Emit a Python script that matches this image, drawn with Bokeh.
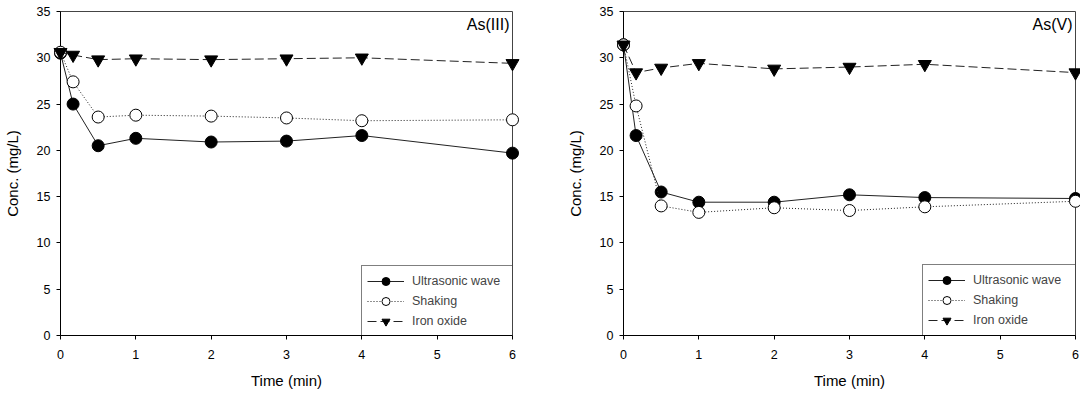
from bokeh.plotting import figure
from bokeh.layouts import row
from bokeh.models import Range1d, Legend, LegendItem, Label, FixedTicker
from bokeh.embed import file_html
from bokeh.resources import INLINE

time_min = [0, 0.167, 0.5, 1, 2, 3, 4, 6]

as3_ultrasonic = [30.5, 25.0, 20.5, 21.3, 20.9, 21.0, 21.6, 19.7]
as3_shaking = [30.6, 27.4, 23.6, 23.8, 23.7, 23.5, 23.2, 23.3]
as3_iron = [30.6, 30.3, 29.8, 29.9, 29.8, 29.9, 30.0, 29.4]

as5_ultrasonic = [31.4, 21.6, 15.5, 14.4, 14.4, 15.2, 14.9, 14.8]
as5_shaking = [31.4, 24.8, 14.0, 13.3, 13.8, 13.5, 13.9, 14.5]
as5_iron = [31.4, 28.4, 28.9, 29.4, 28.8, 29.0, 29.3, 28.4]

series_labels = ["Ultrasonic wave", "Shaking", "Iron oxide"]
x_ticks = [0, 1, 2, 3, 4, 5, 6]
y_ticks = [0, 5, 10, 15, 20, 25, 30, 35]

FONT = "Liberation Sans"
LINE_COL = "#222222"


def make_panel(width, border_left, border_right, title, ys, legend_loc, label_width):
    p = figure(width=width, height=392, output_backend="svg", toolbar_location=None,
               x_range=Range1d(0, 6), y_range=Range1d(0, 35),
               min_border_left=border_left, min_border_right=border_right,
               min_border_top=11, min_border_bottom=57)
    p.grid.visible = False
    p.outline_line_color = "#444444"
    p.outline_line_width = 1
    p.background_fill_color = "white"
    for ax in (p.xaxis[0], p.yaxis[0]):
        ax.axis_line_color = "black"
        ax.major_tick_line_color = "black"
        ax.minor_tick_line_color = None
        ax.major_tick_in = 0
        ax.major_tick_out = 4
        ax.major_label_text_font = FONT
        ax.major_label_text_font_size = "12.5px"
        ax.major_label_text_color = "black"
        ax.axis_label_text_font = FONT
        ax.axis_label_text_font_size = "15px"
        ax.axis_label_text_font_style = "normal"
        ax.axis_label_text_color = "black"
    p.xaxis.ticker = FixedTicker(ticks=x_ticks)
    p.yaxis.ticker = FixedTicker(ticks=y_ticks)
    p.xaxis.axis_label = "Time (min)"
    p.yaxis.axis_label = "Conc. (mg/L)"
    p.xaxis.major_label_standoff = 10
    p.xaxis.axis_label_standoff = 10
    p.yaxis.major_label_standoff = 6
    p.yaxis.axis_label_standoff = 13

    styles = [
        dict(dash="solid", marker="circle", fill="black", size=12),
        dict(dash="1 2", marker="circle", fill="white", size=12),
        dict(dash="9 4", marker="inverted_triangle", fill="black", size=13),
    ]
    items = []
    for lab, y, st in zip(series_labels, ys, styles):
        lr = p.line(time_min, y, line_color=LINE_COL, line_width=1, line_dash=st["dash"], level="overlay")
        sr = p.scatter(time_min, y, marker=st["marker"], size=st["size"], fill_color=st["fill"],
                       line_color="black", line_width=1, level="overlay")
        items.append(LegendItem(label=lab, renderers=[lr, sr]))

    leg = Legend(items=items, location=legend_loc)
    leg.label_text_font = FONT
    leg.label_text_font_size = "12.5px"
    leg.glyph_width = 37
    leg.glyph_height = 20
    leg.label_height = 14
    leg.label_width = label_width
    leg.spacing = 0
    leg.padding = 5
    leg.margin = 0
    leg.label_standoff = 8
    leg.border_line_color = "black"
    leg.border_line_width = 1
    leg.background_fill_color = "white"
    leg.background_fill_alpha = 1
    p.add_layout(leg, "center")

    p.add_layout(Label(x=6, y=35, x_offset=-3, y_offset=-4, text=title, text_align="right",
                       text_baseline="top", text_font=FONT, text_font_size="16px",
                       text_color="black"))
    return p


p1 = make_panel(556, 60, 44, "As(III)", [as3_ultrasonic, as3_shaking, as3_iron], (301, -2), 118)
p2 = make_panel(524, 67, 5, "As(V)", [as5_ultrasonic, as5_shaking, as5_iron], (299, -1), 99)

layout = row(p1, p2)
open("out.html", "w").write(file_html(layout, INLINE))
